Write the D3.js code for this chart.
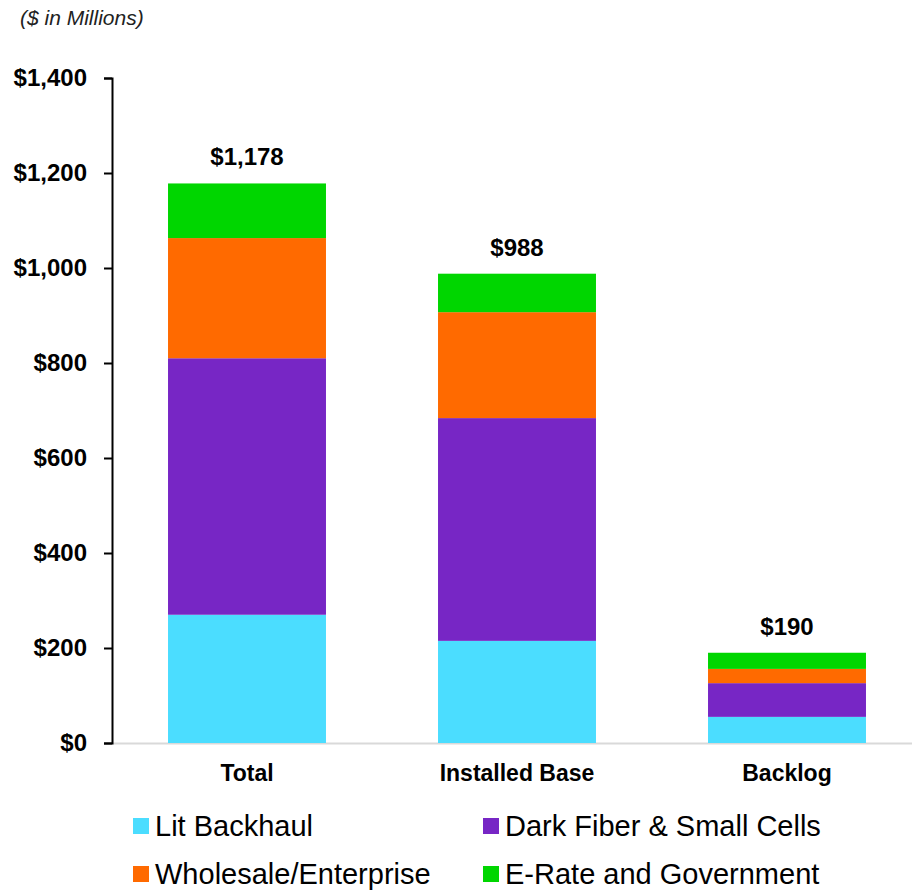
<!DOCTYPE html>
<html><head><meta charset="utf-8">
<script src="https://cdn.jsdelivr.net/npm/d3@7"></script>
<style>body{margin:0;background:#fff;} svg{font-family:"Liberation Sans",Arial,sans-serif;}</style>
</head><body>
<svg id="chart" width="912" height="893"></svg>
<script>
const categories = ["Total", "Installed Base", "Backlog"];
const seriesNames = ["Lit Backhaul", "Dark Fiber & Small Cells", "Wholesale/Enterprise", "E-Rate and Government"];
const litBackhaul = [270, 215, 55];
const darkFiber = [540, 469, 71];
const wholesale = [253, 223, 30];
const eRate = [115, 81, 34];
const totals = [1178, 988, 190];
const yTicks = [0, 200, 400, 600, 800, 1000, 1200, 1400];
const colors = ["#4BDDFF", "#7726C5", "#FF6A00", "#00D600"];

const svg = d3.select("#chart");
const x = d3.scaleBand().domain(categories).range([112, 922]).paddingInner(0.415).paddingOuter(0.2075);
const y = d3.scaleLinear().domain([0, 1400]).range([743, 78]);

const rows = categories.map((c, i) => ({cat: c, s0: litBackhaul[i], s1: darkFiber[i], s2: wholesale[i], s3: eRate[i]}));
const stack = d3.stack().keys(["s0", "s1", "s2", "s3"])(rows);

svg.append("text").attr("x", 20).attr("y", 25).attr("font-size", 21).attr("font-style", "italic").attr("fill", "#222").text("($ in Millions)");

// baseline
svg.append("line").attr("x1", 112).attr("x2", 912).attr("y1", 743.5).attr("y2", 743.5).attr("stroke", "#d9d9d9").attr("stroke-width", 2);

stack.forEach((layer, li) => {
  svg.append("g").selectAll("rect").data(layer).join("rect")
    .attr("x", d => x(d.data.cat)).attr("width", x.bandwidth())
    .attr("y", d => y(d[1])).attr("height", d => y(d[0]) - y(d[1]))
    .attr("fill", colors[li]);
});

// y axis
const yAxis = d3.axisLeft(y).tickValues(yTicks).tickSize(8).tickPadding(17).tickFormat(d => "$" + d3.format(",")(d));
const ga = svg.append("g").attr("transform", "translate(112,0)").call(yAxis);
ga.select(".domain").attr("stroke", "#000").attr("stroke-width", 2);
ga.selectAll(".tick line").attr("stroke", "#000").attr("stroke-width", 2);
ga.selectAll(".tick text").attr("font-size", 24).attr("font-weight", "bold").attr("fill", "#000").attr("font-family", "Liberation Sans, Arial, sans-serif");

// category labels
svg.append("g").selectAll("text").data(categories).join("text")
  .attr("x", d => x(d) + x.bandwidth() / 2).attr("y", 781).attr("text-anchor", "middle")
  .attr("font-size", 23).attr("font-weight", "bold").attr("fill", "#000").text(d => d);

// totals
svg.append("g").selectAll("text").data(totals).join("text")
  .attr("x", (d, i) => x(categories[i]) + x.bandwidth() / 2).attr("y", d => y(d) - 18)
  .attr("text-anchor", "middle").attr("font-size", 24).attr("font-weight", "bold").attr("fill", "#000")
  .text(d => "$" + d3.format(",")(d));

// legend
const legPos = [[133, 826], [483, 826], [133, 874], [483, 874]];
seriesNames.forEach((n, i) => {
  const [lx, ly] = legPos[i];
  svg.append("rect").attr("x", lx).attr("y", ly - 8).attr("width", 16).attr("height", 16).attr("fill", colors[i]);
  svg.append("text").attr("x", lx + 22).attr("y", ly + 10).attr("font-size", 29).attr("fill", "#000").text(n);
});
</script>
</body></html>
